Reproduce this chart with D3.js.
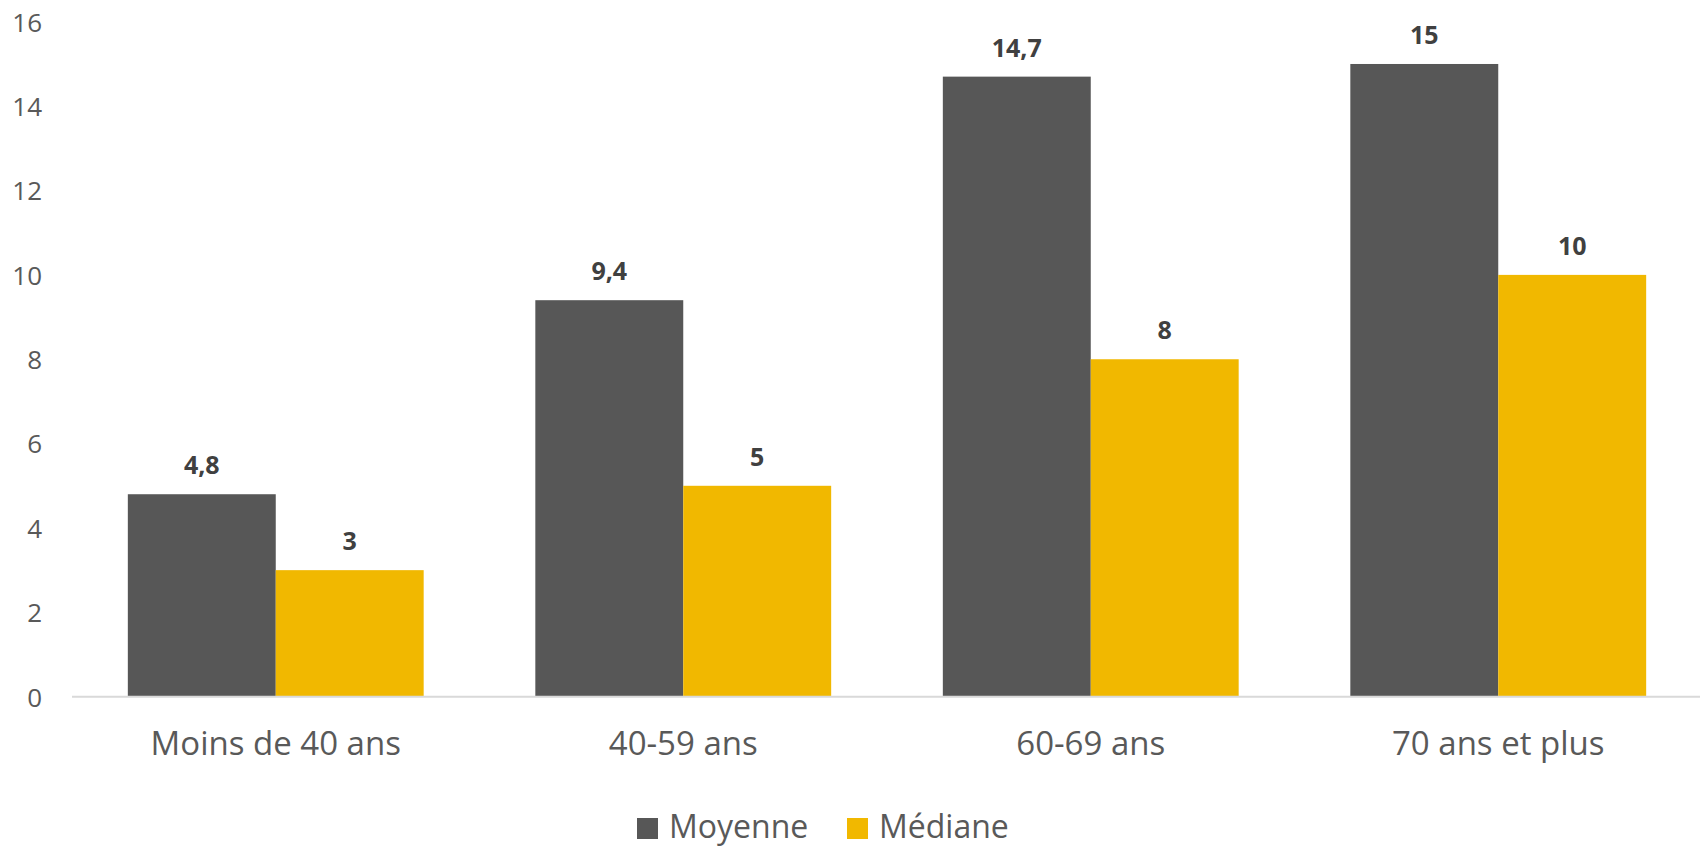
<!DOCTYPE html>
<html><head><meta charset="utf-8">
<script src="https://cdn.jsdelivr.net/npm/d3@7"></script>
<style>body{margin:0;background:#fff}svg{display:block}</style>
</head><body>
<svg id="chart" width="1700" height="848"></svg>
<script>
const categories = ["Moins de 40 ans", "40-59 ans", "60-69 ans", "70 ans et plus"];
const seriesNames = ["Moyenne", "Médiane"];
const moyenne = [4.8, 9.4, 14.7, 15];
const mediane = [3, 5, 8, 10];
const yTicks = [0, 2, 4, 6, 8, 10, 12, 14, 16];
const colors = ["#575757", "#F1B800"];

const svg = d3.select("#chart");
const font = "'Open Sans', sans-serif";
const x0 = d3.scaleBand().domain(categories).range([72, 1702]).paddingInner(0.274).paddingOuter(0.137);
const x1 = d3.scaleBand().domain(seriesNames).range([0, x0.bandwidth()]);
const y = d3.scaleLinear().domain([0, 16]).range([696.7, 21.8]);

// y axis labels
const yAxis = svg.append("g").attr("transform", "translate(42,0)")
  .call(d3.axisLeft(y).tickValues(yTicks).tickSize(0).tickPadding(0).tickFormat(d3.format("d")));
yAxis.select(".domain").remove();
yAxis.selectAll("text").attr("font-family", font).attr("font-size", 26).attr("fill", "#595959").attr("dy", "0.36em");

// bars
const data = categories.map((c, i) => ({cat: c, vals: [moyenne[i], mediane[i]]}));
const fmt = v => String(v).replace(".", ",");
const g = svg.append("g").selectAll("g").data(data).join("g")
  .attr("transform", d => `translate(${x0(d.cat)},0)`);
g.selectAll("rect").data(d => d.vals.map((v, j) => ({name: seriesNames[j], v, j})))
  .join("rect")
  .attr("x", d => x1(d.name)).attr("width", x1.bandwidth())
  .attr("y", d => y(d.v)).attr("height", d => y(0) - y(d.v))
  .attr("fill", d => colors[d.j]);
g.selectAll("text").data(d => d.vals.map((v, j) => ({name: seriesNames[j], v, j})))
  .join("text")
  .attr("x", d => x1(d.name) + x1.bandwidth() / 2)
  .attr("y", d => y(d.v) - 20)
  .attr("text-anchor", "middle").attr("font-family", font).attr("font-weight", "bold")
  .attr("font-size", 25).attr("fill", "#404040").text(d => fmt(d.v));

// x axis
svg.append("line").attr("x1", 72).attr("x2", 1700).attr("y1", y(0)).attr("y2", y(0))
  .attr("stroke", "#d9d9d9").attr("stroke-width", 2);
const xAxis = svg.append("g").attr("transform", `translate(0,${y(0)})`)
  .call(d3.axisBottom(x0).tickSize(0).tickPadding(0));
xAxis.select(".domain").remove();
xAxis.selectAll("text").attr("font-family", font).attr("font-size", 33).attr("fill", "#595959")
  .attr("dy", null).attr("y", 58);

// legend
const legendX = [637, 847];
const lg = svg.append("g").selectAll("g").data(seriesNames).join("g")
  .attr("transform", (d, i) => `translate(${legendX[i]},818)`);
lg.append("rect").attr("width", 21).attr("height", 21).attr("fill", (d, i) => colors[i]);
lg.append("text").attr("x", 32).attr("y", 20).attr("font-family", font).attr("font-size", 32)
  .attr("fill", "#595959").text(d => d);
</script>
</body></html>
